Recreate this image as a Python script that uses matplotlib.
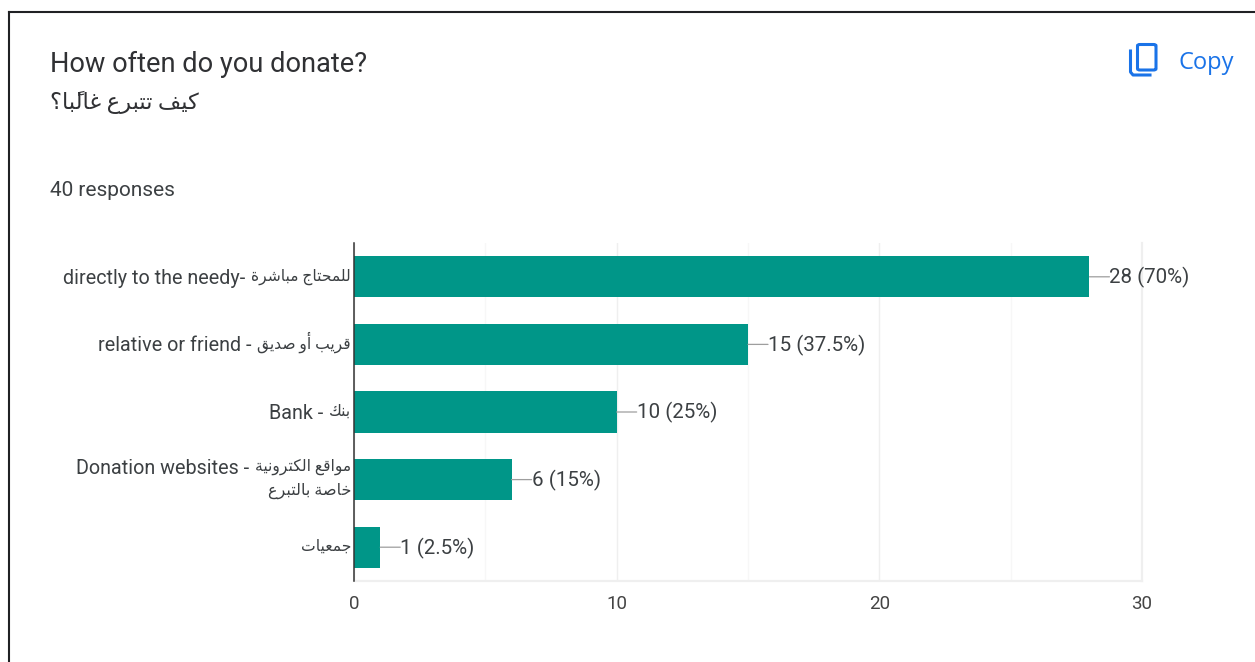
import matplotlib
matplotlib.use("Agg")
import matplotlib.pyplot as plt
from matplotlib.patches import FancyBboxPatch
from matplotlib.lines import Line2D

W, H = 1255, 662
FONT = ['Roboto', 'DejaVu Sans']
plt.rcParams['font.family'] = FONT

# --- Arabic shaping (matplotlib does no shaping or bidi) ---
FORMS = {  # isolated, final, initial, medial
    'ا': 'ﺍﺎ', 'أ': 'ﺃﺄ', 'د': 'ﺩﺪ', 'ذ': 'ﺫﺬ', 'ر': 'ﺭﺮ', 'ز': 'ﺯﺰ', 'و': 'ﻭﻮ', 'ة': 'ﺓﺔ',
    'ب': 'ﺏﺐﺑﺒ', 'ت': 'ﺕﺖﺗﺘ', 'ج': 'ﺝﺞﺟﺠ', 'ح': 'ﺡﺢﺣﺤ', 'خ': 'ﺥﺦﺧﺨ', 'ش': 'ﺵﺶﺷﺸ',
    'ص': 'ﺹﺺﺻﺼ', 'ع': 'ﻉﻊﻋﻌ', 'غ': 'ﻍﻎﻏﻐ', 'ف': 'ﻑﻒﻓﻔ', 'ق': 'ﻕﻖﻗﻘ', 'ك': 'ﻙﻚﻛﻜ',
    'ل': 'ﻝﻞﻟﻠ', 'م': 'ﻡﻢﻣﻤ', 'ن': 'ﻥﻦﻧﻨ', 'ي': 'ﻱﻲﻳﻴ',
}
MARKS = '\u064b'


def shape(word_text):
    chars = list(word_text)
    letters = [i for i, c in enumerate(chars) if c not in MARKS]
    out = []
    for pos, i in enumerate(letters):
        c = chars[i]
        forms = FORMS.get(c)
        if forms is None:
            out.append(c)
        else:
            prev = chars[letters[pos - 1]] if pos else None
            nxt = chars[letters[pos + 1]] if pos + 1 < len(letters) else None
            j_prev = prev in FORMS and len(FORMS[prev]) == 4
            j_next = nxt in FORMS and len(forms) == 4
            if j_prev and j_next:
                out.append(forms[3])
            elif j_next:
                out.append(forms[2])
            elif j_prev:
                out.append(forms[1])
            else:
                out.append(forms[0])
        if i + 1 < len(chars) and chars[i + 1] in MARKS:
            out.append(chars[i + 1])
    clusters = []
    for ch in out:
        if ch in MARKS and clusters:
            clusters[-1] += ch
        else:
            clusters.append(ch)
    return ''.join(reversed(clusters))


def ar(text):
    return ' '.join(shape(w) for w in reversed(text.split(' ')))


# --- Data ---
title = "How often do you donate?"
subtitle_ar = "كيف تتبرع غالبًا؟"
responses = "40 responses"
copy_label = "Copy"
cat_en = ["directly to the needy-", "relative or friend -", "Bank -", "Donation websites -", ""]
cat_ar = ["للمحتاج مباشرة", "قريب أو صديق", "بنك", "مواقع الكترونية", "جمعيات"]
cat_ar2 = ["", "", "", "خاصة بالتبرع", ""]
counts = [28, 15, 10, 6, 1]
percents = ["70%", "37.5%", "25%", "15%", "2.5%"]
x_ticks = [0, 10, 20, 30]
x_minor = [5, 15, 25]

TEAL = '#009688'
TXT = '#3c4043'
BLUE = '#1a73e8'

fig = plt.figure(figsize=(W / 100, H / 100), dpi=100, facecolor='white')


def fx(px):
    return px / W


def fy(py):
    return 1 - py / H


# Card outline
fig.add_artist(Line2D([fx(9), fx(9)], [0, fy(12)], color='#202124', lw=1.5))
fig.add_artist(Line2D([fx(9), 1], [fy(12), fy(12)], color='#202124', lw=1.5))

# Header
fig.text(fx(50), fy(72), title, fontsize=19.6, color='#303134', va='baseline', ha='left')
fig.text(fx(50), fy(109), ar(subtitle_ar), fontsize=16.2, color='#303134', va='baseline', ha='left')
fig.text(fx(50), fy(196), responses, fontsize=15, color=TXT, va='baseline', ha='left')
fig.text(fx(1178), fy(69), copy_label, fontsize=17, color=BLUE, va='baseline', ha='left', family='Open Sans')

# Copy icon
fig.add_artist(FancyBboxPatch((fx(1137.5), fy(70)), 18.5 / W, 25.5 / H,
                              boxstyle='round,pad=0,rounding_size=0.002', transform=fig.transFigure,
                              fill=False, ec=BLUE, lw=2.2))
fig.add_artist(Line2D([fx(1130.5), fx(1130.5), fx(1133), fx(1150)], [fy(51), fy(72), fy(75), fy(75)],
                      color=BLUE, lw=2.2))

# Chart
ax = fig.add_axes([fx(354), fy(581), (1142 - 354) / W, (581 - 243) / H])
y = list(range(len(counts)))
ax.barh(y, counts, height=0.61, color=TEAL, zorder=3)
ax.set_xlim(0, 30)
ax.set_ylim(len(counts) - 0.5, -0.5)
ax.set_xticks(x_ticks)
ax.set_xticks(x_minor, minor=True)
ax.set_yticks([])
ax.tick_params(axis='x', which='both', length=0, pad=10, labelsize=13.5, labelcolor='#444444')
ax.grid(axis='x', which='major', color='#efefef', lw=1, zorder=0)
ax.grid(axis='x', which='minor', color='#f7f7f7', lw=1, zorder=0)
ax.spines['top'].set_visible(False)
ax.spines['right'].set_color('#efefef')
ax.spines['right'].set_linewidth(1.6)
ax.spines['bottom'].set_color('#efefef')
ax.spines['bottom'].set_linewidth(1.6)
ax.spines['left'].set_color('#333333')
ax.spines['left'].set_linewidth(1.1)
ax.spines['left'].set_zorder(5)

PT = 0.72  # points per pixel at dpi 100
for i, (n, p) in enumerate(zip(counts, percents)):
    ax.annotate("", xy=(n, i), xytext=(20 * PT, 0), textcoords='offset points',
                arrowprops=dict(arrowstyle='-', color='#9e9e9e', lw=0.9, shrinkA=0, shrinkB=0))
    ax.annotate(f"{n} ({p})", xy=(n, i), xytext=(20 * PT, -0.6), textcoords='offset points',
                va='center', ha='left', fontsize=14.8, color=TXT)


# Category labels: the Arabic part is set smaller, and the English part sits to its left
def cat_text(s, dx_px, dy_px, size, i):
    return ax.annotate(s, xy=(0, i), xytext=(dx_px * PT, -dy_px * PT), textcoords='offset points',
                       ha='right', va='baseline', fontsize=size, color=TXT, annotation_clip=False)


renderer = fig.canvas.get_renderer()
for i, (en, a, a2) in enumerate(zip(cat_en, cat_ar, cat_ar2)):
    two = bool(a2)
    t = cat_text(ar(a), -3, -9 if two else 4, 11.2, i)
    if a2:
        cat_text(ar(a2), -3, 15, 11.5, i)
    if en:
        w = t.get_window_extent(renderer).width
        cat_text(en, -3 - w - 6, -6 if two else 7, 14.2, i)

fig.savefig('out.png', dpi=100)
